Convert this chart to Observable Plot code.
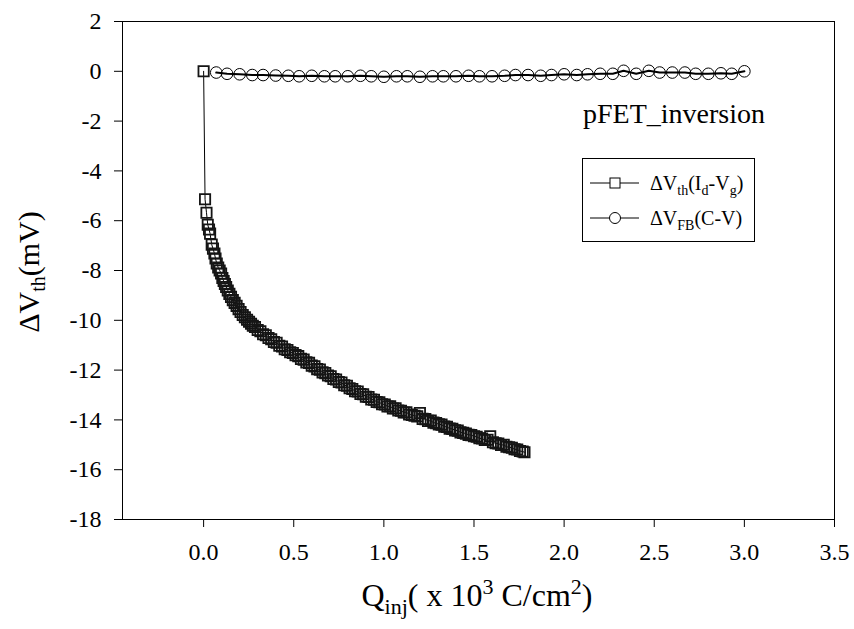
<!DOCTYPE html>
<html>
<head>
<meta charset="utf-8">
<script src="https://cdn.jsdelivr.net/npm/d3@7"></script>
<script src="https://cdn.jsdelivr.net/npm/@observablehq/plot@0.6"></script>
<style>
  html, body { margin: 0; padding: 0; background: #fff; }
  #chart svg { display: block; }
  #chart svg text { font-family: "Liberation Serif", "Times New Roman", serif !important; }
</style>
</head>
<body>
<div id="chart"></div>
<script>
// ΔVth from Id-Vg sweeps versus injected charge (x 10^3 C/cm^2)
const qIdVg = [
  0, 0.008, 0.016, 0.023, 0.030, 0.036, 0.045, 0.052, 0.060, 0.066, 0.073, 0.081, 0.089, 0.097,
  0.104, 0.111, 0.118, 0.125, 0.134, 0.143, 0.152, 0.162, 0.172, 0.183, 0.194, 0.205, 0.217,
  0.229, 0.241, 0.252, 0.263, 0.273,
  0.285, 0.300, 0.315, 0.330, 0.345, 0.360, 0.375, 0.390, 0.405, 0.420, 0.435, 0.450, 0.465,
  0.480, 0.495, 0.510, 0.525, 0.540, 0.555, 0.570, 0.585, 0.600, 0.615, 0.630, 0.645, 0.660,
  0.675, 0.690, 0.705, 0.720, 0.735, 0.750, 0.765, 0.780, 0.795, 0.810, 0.825, 0.840, 0.855,
  0.870, 0.885, 0.900, 0.915, 0.930, 0.945, 0.960, 0.975, 0.990, 1.005, 1.020, 1.035, 1.050,
  1.065, 1.080, 1.095, 1.110, 1.125, 1.140, 1.155, 1.170, 1.185, 1.200, 1.215, 1.230, 1.245,
  1.260, 1.275, 1.290, 1.305, 1.320, 1.335, 1.350, 1.365, 1.380, 1.395, 1.410, 1.425, 1.440,
  1.455, 1.470, 1.485, 1.500, 1.515, 1.530, 1.545, 1.560, 1.575, 1.590, 1.605, 1.620, 1.635,
  1.650, 1.665, 1.680, 1.695, 1.710, 1.725, 1.740, 1.755, 1.770, 1.780
];
const dVthIdVg = [
  0, -5.14, -5.68, -6.16, -6.35, -6.52, -6.96, -7.12, -7.32, -7.52, -7.72, -7.88, -8.00, -8.12,
  -8.30, -8.42, -8.54, -8.66, -8.80, -8.94, -9.06, -9.19, -9.30, -9.42, -9.55, -9.67, -9.79,
  -9.88, -9.98, -10.06, -10.14, -10.22,
  -10.27, -10.39, -10.44, -10.56, -10.60, -10.71, -10.76, -10.87, -10.90, -11.02, -11.05, -11.16, -11.19,
  -11.28, -11.31, -11.40, -11.44, -11.55, -11.58, -11.69, -11.71, -11.82, -11.85, -11.96, -11.98, -12.09,
  -12.12, -12.22, -12.25, -12.36, -12.38, -12.48, -12.50, -12.61, -12.63, -12.73, -12.76, -12.85, -12.86,
  -12.96, -12.97, -13.07, -13.08, -13.18, -13.19, -13.28, -13.29, -13.37, -13.38, -13.46, -13.45, -13.54,
  -13.53, -13.62, -13.63, -13.70, -13.69, -13.78, -13.80, -13.83, -13.86, -13.72, -13.96, -13.97, -14.04,
  -14.03, -14.11, -14.13, -14.18, -14.19, -14.27, -14.28, -14.35, -14.36, -14.42, -14.43, -14.50, -14.52,
  -14.55, -14.60, -14.61, -14.66, -14.68, -14.74, -14.75, -14.81, -14.80, -14.66, -14.90, -14.94, -14.95,
  -15.01, -15.00, -15.08, -15.10, -15.12, -15.18, -15.19, -15.25, -15.27, -15.30
];

// ΔVFB from C-V sweeps
const qCV = [
  0.07, 0.13, 0.20, 0.27, 0.33, 0.40, 0.47, 0.53, 0.60, 0.67, 0.73, 0.80, 0.87, 0.93, 1.00,
  1.07, 1.13, 1.20, 1.27, 1.33, 1.40, 1.47, 1.53, 1.60, 1.67, 1.73, 1.80, 1.87, 1.93, 2.00,
  2.07, 2.13, 2.20, 2.27, 2.33, 2.40, 2.47, 2.53, 2.60, 2.67, 2.73, 2.80, 2.87, 2.93, 3.00
];
const dVfbCV = [
  -0.05, -0.10, -0.12, -0.15, -0.15, -0.17, -0.18, -0.20, -0.18, -0.20, -0.20, -0.20, -0.18, -0.20, -0.22,
  -0.20, -0.20, -0.22, -0.20, -0.20, -0.20, -0.18, -0.20, -0.20, -0.18, -0.15, -0.15, -0.18, -0.15, -0.12,
  -0.15, -0.12, -0.10, -0.10, 0.02, -0.10, 0.02, -0.05, -0.05, -0.05, -0.10, -0.10, -0.08, -0.10, 0.00
];

const xTicks = [0, 0.5, 1.0, 1.5, 2.0, 2.5, 3.0, 3.5];
const yTicks = [2, 0, -2, -4, -6, -8, -10, -12, -14, -16, -18];

const idvg = qIdVg.map((q, i) => ({q, v: dVthIdVg[i]}));
const cv = qCV.map((q, i) => ({q, v: dVfbCV[i]}));

const font = "'Liberation Serif', 'Times New Roman', serif";

const svg = Plot.plot({
  width: 854,
  height: 629,
  marginLeft: 122,
  marginRight: 20,
  marginTop: 21,
  marginBottom: 110,
  style: {fontFamily: font, fontSize: "24px", color: "black", background: "white"},
  x: {domain: [-0.45, 3.5]},
  y: {domain: [-18, 2]},
  marks: [
    Plot.axisX({ticks: xTicks, tickSize: 8, tickPadding: 15, tickFormat: d3.format(".1f"), label: null, fontSize: 24}),
    Plot.axisY({ticks: yTicks, tickSize: 8, tickPadding: 13, tickFormat: d => String(d), label: null, fontSize: 24}),
    Plot.line(cv, {x: "q", y: "v", stroke: "black", strokeWidth: 2}),
    Plot.dot(cv, {x: "q", y: "v", r: 5.8, stroke: "black", strokeWidth: 1, fill: "none"}),
    Plot.line(idvg, {x: "q", y: "v", stroke: "black", strokeWidth: 1}),
    Plot.dot(idvg, {x: "q", y: "v", symbol: "square", r: 5.8, stroke: "#151515", strokeWidth: 1.8, fill: "none"}),
    Plot.frame({stroke: "black", strokeWidth: 1})
  ]
});

const g = d3.select(svg).append("g")
  .attr("font-family", font)
  .attr("text-anchor", "start")
  .attr("fill", "black");

// axis titles with sub/superscripts
const yt = g.append("text")
  .attr("transform", "translate(39,272) rotate(-90)")
  .attr("text-anchor", "middle")
  .attr("font-size", 30);
yt.append("tspan").text("ΔV");
yt.append("tspan").attr("font-size", 20).attr("dy", 6).text("th");
yt.append("tspan").attr("dy", -6).text("(mV)");

const xt = g.append("text")
  .attr("x", 477).attr("y", 606)
  .attr("text-anchor", "middle")
  .attr("font-size", 32);
xt.append("tspan").text("Q");
xt.append("tspan").attr("font-size", 22).attr("dy", 8).text("inj");
xt.append("tspan").attr("dy", -8).text("( x 10");
xt.append("tspan").attr("font-size", 22).attr("dy", -12).text("3");
xt.append("tspan").attr("dy", 12).text(" C/cm");
xt.append("tspan").attr("font-size", 22).attr("dy", -12).text("2");
xt.append("tspan").attr("dy", 12).text(")");

// annotation
g.append("text").attr("x", 765).attr("y", 123).attr("text-anchor", "end")
  .attr("font-size", 28).text("pFET_inversion");

// legend
const lg = g.append("g");
lg.append("rect").attr("x", 582.5).attr("y", 158.5).attr("width", 172).attr("height", 83)
  .attr("fill", "white").attr("stroke", "black").attr("stroke-width", 1);
const rows = [
  {y: 183, sym: "square", parts: [["ΔV", 0], ["th", 1], ["(I", -1], ["d", 1], ["-V", -1], ["g", 1], [")", -1]]},
  {y: 218, sym: "circle", parts: [["ΔV", 0], ["FB", 1], ["(C-V)", -1]]}
];
for (const row of rows) {
  lg.append("line").attr("x1", 590).attr("x2", 639).attr("y1", row.y).attr("y2", row.y)
    .attr("stroke", "black").attr("stroke-width", 1);
  if (row.sym === "square") {
    lg.append("rect").attr("x", 610).attr("y", row.y - 5).attr("width", 10).attr("height", 10)
      .attr("fill", "white").attr("stroke", "black");
  } else {
    lg.append("circle").attr("cx", 615).attr("cy", row.y).attr("r", 5.5)
      .attr("fill", "white").attr("stroke", "black");
  }
  const t = lg.append("text").attr("x", 650).attr("y", row.y + 7)
    .attr("text-anchor", "start").attr("font-size", 20);
  for (const [s, sub] of row.parts) {
    const ts = t.append("tspan").text(s);
    if (sub === 1) ts.attr("font-size", 14).attr("dy", 5);
    else if (sub === -1) ts.attr("dy", -5);
  }
}

document.getElementById("chart").appendChild(svg);
</script>
</body>
</html>
